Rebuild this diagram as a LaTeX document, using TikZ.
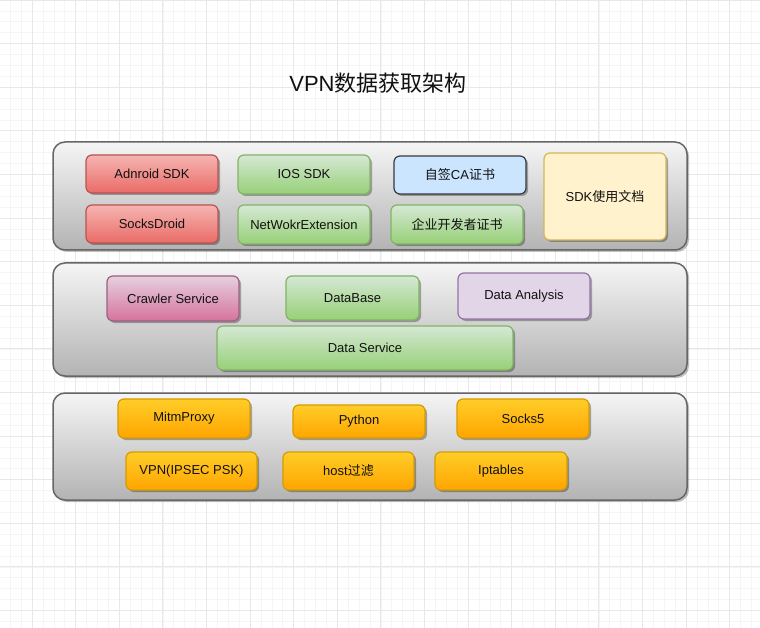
\documentclass[tikz,border=0pt]{standalone}
\usepackage{fontspec}
\setmainfont{Liberation Sans}
\newfontfamily\cjk{Noto Sans CJK SC}
\usetikzlibrary{shadows}
\definecolor{gridminor}{HTML}{F5F5F5}
\definecolor{gridmajor}{HTML}{E8E8E8}
\definecolor{panelstroke}{HTML}{666666}
\definecolor{paneltop}{HTML}{F5F5F5}
\definecolor{panelbot}{HTML}{B3B3B3}
\definecolor{redtop}{HTML}{F5B5B2}
\definecolor{redbot}{HTML}{EA6B66}
\definecolor{redstroke}{HTML}{B85450}
\definecolor{greentop}{HTML}{D5E8D4}
\definecolor{greenbot}{HTML}{97D077}
\definecolor{greenstroke}{HTML}{82B366}
\definecolor{orangetop}{HTML}{FFCD28}
\definecolor{orangebot}{HTML}{FFA500}
\definecolor{orangestroke}{HTML}{D79B00}
\definecolor{pinktop}{HTML}{E6D0DE}
\definecolor{pinkbot}{HTML}{D5739D}
\definecolor{pinkstroke}{HTML}{996185}
\definecolor{purplefill}{HTML}{E1D5E7}
\definecolor{purplestroke}{HTML}{9673A6}
\definecolor{bluefill}{HTML}{CCE5FF}
\definecolor{bluestroke}{HTML}{36393D}
\definecolor{yellowfill}{HTML}{FFF2CC}
\definecolor{yellowstroke}{HTML}{D6B656}
\definecolor{txt}{HTML}{111111}
\tikzset{
  panel/.style={draw=panelstroke, line width=1.5pt, rounded corners=12pt,
    top color=paneltop, bottom color=panelbot,
    drop shadow={shadow xshift=2pt, shadow yshift=-2pt, opacity=0.25, fill=black},
    minimum width=634pt, inner sep=0pt},
  box/.style={line width=1.2pt, rounded corners=6pt, inner sep=0pt,
    minimum width=132pt, text=txt, font=\fontsize{13}{15}\selectfont,
    drop shadow={shadow xshift=2pt, shadow yshift=-2pt, opacity=0.3, fill=black}},
  redbox/.style={box, draw=redstroke, top color=redtop, bottom color=redbot},
  greenbox/.style={box, draw=greenstroke, top color=greentop, bottom color=greenbot},
  orangebox/.style={box, draw=orangestroke, top color=orangetop, bottom color=orangebot},
  pinkbox/.style={box, draw=pinkstroke, top color=pinktop, bottom color=pinkbot},
  purplebox/.style={box, draw=purplestroke, fill=purplefill},
  bluebox/.style={box, draw=bluestroke, fill=bluefill},
  yellowbox/.style={box, draw=yellowstroke, fill=yellowfill},
}
\begin{document}
\begin{tikzpicture}[x=1pt,y=-1pt]
\useasboundingbox (0,0) rectangle (760,628);
\fill[white] (0,0) rectangle (760,628);
% grid
\foreach \i in {-3,...,67} {
  \draw[gridminor, line width=0.6pt] ({32+\i*10.9},0) -- ({32+\i*10.9},628);
}
\foreach \i in {0,...,58} {
  \draw[gridminor, line width=0.6pt] (0,{\i*10.9}) -- (760,{\i*10.9});
}
\foreach \i in {0,...,17} {
  \draw[gridmajor, line width=0.8pt] ({32+(\i-1)*43.6},0) -- ({32+(\i-1)*43.6},628);
}
\foreach \i in {0,...,14} {
  \draw[gridmajor, line width=0.8pt] (0,{\i*43.6}) -- (760,{\i*43.6});
}
% title
\node[text=txt, font=\fontsize{22}{25}\selectfont] (title) at (378,83) {VPN{\cjk 数据获取架构}};
% panels
\node[panel, minimum height=108pt] (p1) at (370,196) {};
\node[panel, minimum height=113pt] (p2) at (370,319.5) {};
\node[panel, minimum height=107pt] (p3) at (370,446.5) {};
% top panel
\node[redbox, minimum height=38pt] (android) at (152,174) {Adnroid SDK};
\node[redbox, minimum height=38pt] (socksdroid) at (152,224) {SocksDroid};
\node[greenbox, minimum height=39pt] (ios) at (304,174.5) {IOS SDK};
\node[greenbox, minimum height=39pt] (netext) at (304,224.5) {NetWokrExtension};
\node[bluebox, minimum height=38pt] (ca) at (460,175) {{\cjk 自签}CA{\cjk 证书}};
\node[greenbox, minimum height=39pt] (ent) at (457,224.5) {\cjk 企业开发者证书};
\node[yellowbox, minimum width=122pt, minimum height=87pt] (doc) at (605,196.5) {SDK{\cjk 使用文档}};
% middle panel
\node[pinkbox, minimum height=45pt] (crawler) at (173,298.5) {Crawler Service};
\node[greenbox, minimum width=133pt, minimum height=44pt] (db) at (352.5,298) {DataBase};
\node[purplebox, minimum height=46pt] (analysis) at (524,296) {Data Analysis};
\node[greenbox, minimum width=296pt, minimum height=44pt] (dataservice) at (365,348) {Data Service};
% bottom panel
\node[orangebox, minimum height=39pt] (mitm) at (184,418.5) {MitmProxy};
\node[orangebox, minimum height=33pt] (python) at (359,421.5) {Python};
\node[orangebox, minimum height=39pt] (socks5) at (523,418.5) {Socks5};
\node[orangebox, minimum width=131pt, minimum height=38pt] (vpn) at (191.5,471) {VPN(IPSEC PSK)};
\node[orangebox, minimum width=131pt, minimum height=38pt] (host) at (348.5,471) {host{\cjk 过滤}};
\node[orangebox, minimum height=38pt] (iptables) at (501,471) {Iptables};
\end{tikzpicture}
\end{document}
